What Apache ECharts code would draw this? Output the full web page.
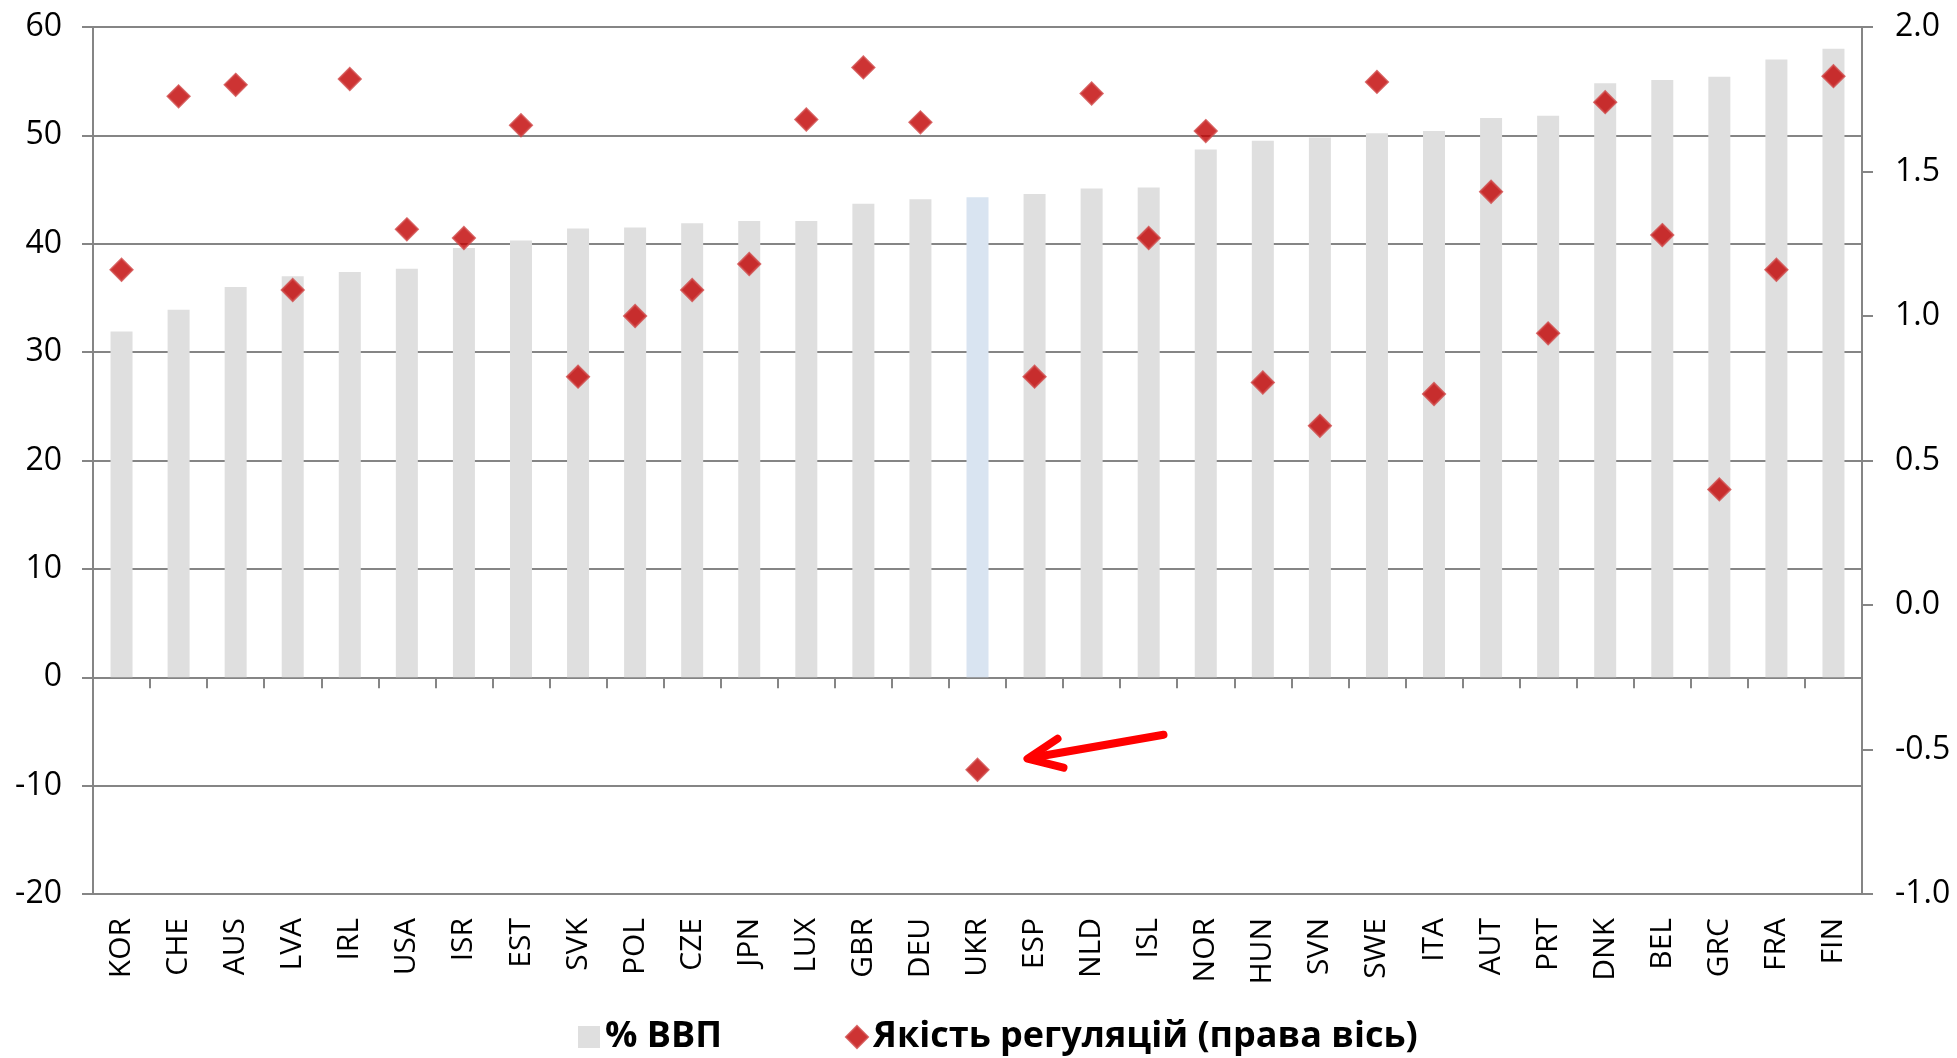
<!DOCTYPE html>
<html>
<head>
<meta charset="utf-8">
<script src="https://cdn.jsdelivr.net/npm/echarts@6/dist/echarts.min.js"></script>
<style>
  html, body { margin: 0; padding: 0; background: #fff; }
  #chart { width: 1957px; height: 1058px; }
</style>
</head>
<body>
<div id="chart"></div>
<script>
const countries = ['KOR', 'CHE', 'AUS', 'LVA', 'IRL', 'USA', 'ISR', 'EST', 'SVK', 'POL', 'CZE',
  'JPN', 'LUX', 'GBR', 'DEU', 'UKR', 'ESP', 'NLD', 'ISL', 'NOR', 'HUN', 'SVN',
  'SWE', 'ITA', 'AUT', 'PRT', 'DNK', 'BEL', 'GRC', 'FRA', 'FIN']

// % ВВП (left axis)
const gdpShare = [31.9, 33.9, 36.0, 37.0, 37.4, 37.7, 39.6, 40.3, 41.4, 41.5, 41.9,
  42.1, 42.1, 43.7, 44.1, 44.3, 44.6, 45.1, 45.2, 48.7, 49.5, 49.8,
  50.2, 50.4, 51.6, 51.8, 54.8, 55.1, 55.4, 57.0, 58.0]

// Якість регуляцій (right axis)
const regQuality = [1.16, 1.76, 1.80, 1.09, 1.82, 1.30, 1.27, 1.66, 0.79, 1.00, 1.09,
  1.18, 1.68, 1.86, 1.67, -0.57, 0.79, 1.77, 1.27, 1.64, 0.77, 0.62,
  1.81, 0.73, 1.43, 0.94, 1.74, 1.28, 0.40, 1.16, 1.83]

const leftTicks = { min: -20, max: 60, interval: 10 }
const rightTicks = { min: -1, max: 2, interval: 0.5 }

const highlight = 'UKR'
const font = '"Open Sans", "Noto Sans", sans-serif'
const gridColor = '#858585'

let chart = echarts.init(document.getElementById('chart'))

let option = {
  animation: false,
  textStyle: { fontFamily: font },
  grid: {
    left: 93,
    right: 95,
    top: 27,
    bottom: 164,
    containLabel: false,
    outerBoundsMode: 'none'
  },
  legend: {
    left: 573,
    top: 1014,
    itemGap: 123,
    itemWidth: 22,
    itemHeight: 22,
    textStyle: { fontFamily: font, fontSize: 36, fontWeight: 'bold', color: '#000' },
    data: [
      { name: '% ВВП', icon: 'rect', itemStyle: { color: '#dfdfdf' } },
      { name: 'Якість регуляцій (права вісь)', icon: 'diamond' }
    ]
  },
  xAxis: [{
    type: 'category',
    data: countries,
    position: 'bottom',
    axisLine: { onZero: true, lineStyle: { color: gridColor, width: 2 } },
    axisTick: { show: true, length: 11, lineStyle: { color: gridColor, width: 2 } },
    axisLabel: { show: false }
  }, {
    type: 'category',
    data: countries,
    position: 'bottom',
    axisLine: { show: false, onZero: false },
    axisTick: { show: false },
    axisLabel: {
      interval: 0,
      rotate: 90,
      margin: 24,
      fontSize: 30,
      color: '#000',
      fontFamily: font
    }
  }],
  yAxis: [{
    type: 'value',
    position: 'left',
    min: leftTicks.min,
    max: leftTicks.max,
    interval: leftTicks.interval,
    axisLine: { show: true, lineStyle: { color: gridColor, width: 2 } },
    axisTick: { show: true, length: 11, lineStyle: { color: gridColor, width: 2 } },
    splitLine: { show: true, lineStyle: { color: gridColor, width: 2 } },
    axisLabel: { margin: 31, fontSize: 32, color: '#000', fontFamily: font }
  }, {
    type: 'value',
    position: 'right',
    min: rightTicks.min,
    max: rightTicks.max,
    interval: rightTicks.interval,
    axisLine: { show: true, lineStyle: { color: gridColor, width: 2 } },
    axisTick: { show: true, length: 11, lineStyle: { color: gridColor, width: 2 } },
    splitLine: { show: false },
    axisLabel: {
      margin: 33,
      fontSize: 32,
      color: '#000',
      fontFamily: font,
      formatter: v => v.toFixed(1)
    }
  }],
  series: [{
    name: '% ВВП',
    type: 'bar',
    xAxisIndex: 0,
    yAxisIndex: 0,
    barWidth: 22,
    itemStyle: { color: '#dfdfdf' },
    data: gdpShare.map((v, i) => countries[i] === highlight
      ? { value: v, itemStyle: { color: '#d9e4f1' } }
      : v)
  }, {
    name: 'Якість регуляцій (права вісь)',
    type: 'scatter',
    xAxisIndex: 0,
    yAxisIndex: 1,
    symbol: 'diamond',
    symbolSize: 22,
    itemStyle: { color: '#c00000', borderColor: '#d04444', borderWidth: 2 },
    data: regQuality
  }]
}

chart.setOption(option)

// red arrow pointing at the UKR marker
let ukrIdx = countries.indexOf(highlight)
let p = chart.convertToPixel({ xAxisIndex: 0, yAxisIndex: 1 }, [ukrIdx, regQuality[ukrIdx]])
let tip = [p[0] + 50, p[1] - 11]
let arrowStyle = { stroke: '#ff0000', lineWidth: 8, lineCap: 'round', lineJoin: 'round', fill: null }
chart.setOption({
  graphic: [{
    type: 'line',
    shape: { x1: p[0] + 186, y1: p[1] - 35, x2: tip[0] + 4, y2: tip[1] - 1 },
    style: arrowStyle,
    z: 100
  }, {
    type: 'polyline',
    shape: { points: [[tip[0] + 30, tip[1] - 20], tip, [tip[0] + 36, tip[1] + 9]] },
    style: arrowStyle,
    z: 100
  }]
})
</script>
</body>
</html>
